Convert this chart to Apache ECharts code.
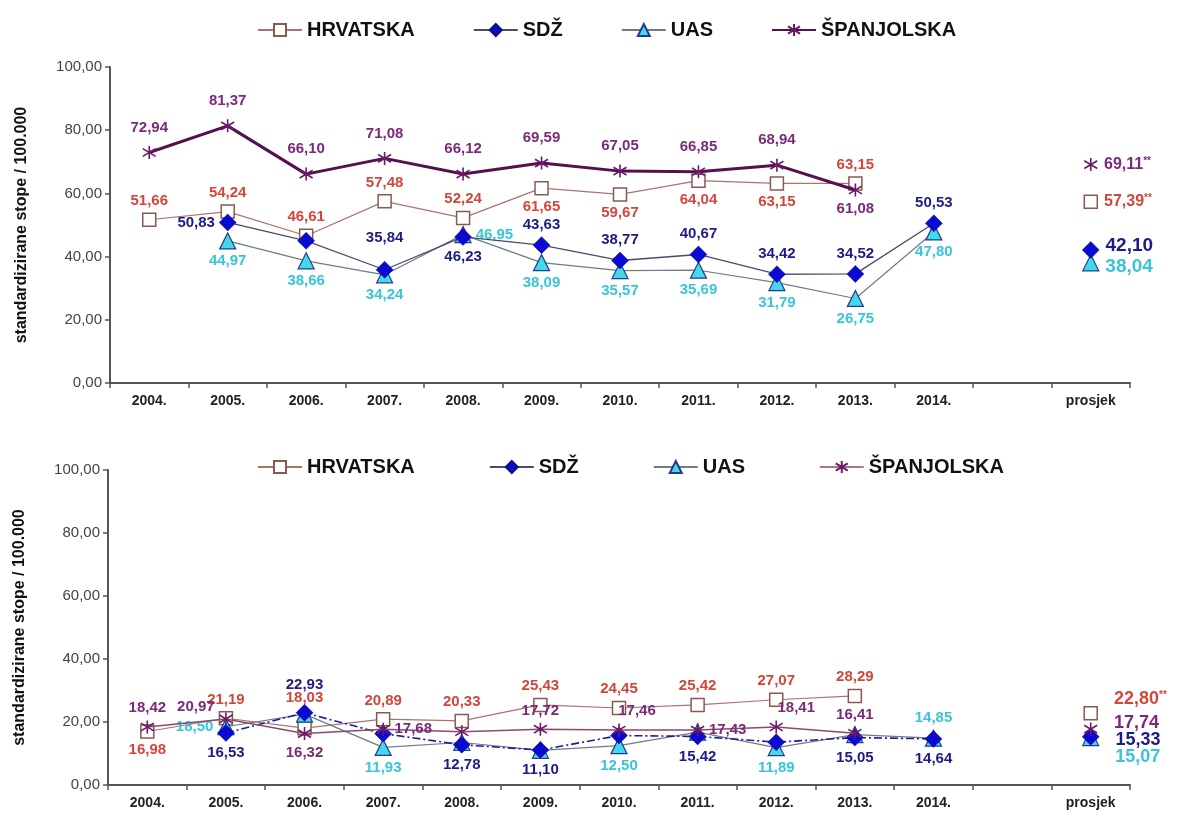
<!DOCTYPE html>
<html>
<head>
<meta charset="utf-8">
<script src="https://cdn.jsdelivr.net/npm/echarts@6/dist/echarts.min.js"></script>
<style>
html,body{margin:0;padding:0;background:#fff}
#main{width:1181px;height:820px}
</style>
</head>
<body>
<div id="main"></div>
<script>
// categories (empty slot before the average column)
const years = ['2004.','2005.','2006.','2007.','2008.','2009.','2010.','2011.','2012.','2013.','2014.','','prosjek'];
const names = ['HRVATSKA','SDŽ','UAS','ŠPANJOLSKA'];
const yTicks = [0, 20, 40, 60, 80, 100];

// upper chart
const hrvTop = [51.66, 54.24, 46.61, 57.48, 52.24, 61.65, 59.67, 64.04, 63.15, 63.15, null];
const sdzTop = [null, 50.83, 45.00, 35.84, 46.23, 43.63, 38.77, 40.67, 34.42, 34.52, 50.53];
const uasTop = [null, 44.97, 38.66, 34.24, 46.95, 38.09, 35.57, 35.69, 31.79, 26.75, 47.80];
const spaTop = [72.94, 81.37, 66.10, 71.08, 66.12, 69.59, 67.05, 66.85, 68.94, 61.08, null];
const avgTop = [57.39, 42.10, 38.04, 69.11];   // HRV, SDŽ, UAS, ŠPA

// lower chart
const hrvBot = [16.98, 21.19, 18.03, 20.89, 20.33, 25.43, 24.45, 25.42, 27.07, 28.29, null];
const sdzBot = [null, 16.53, 22.93, 16.30, 12.78, 11.10, 15.70, 15.42, 13.60, 15.05, 14.64];
const uasBot = [null, 18.50, 22.50, 11.93, 13.50, 11.00, 12.50, 16.80, 11.89, 16.00, 14.85];
const spaBot = [18.42, 20.97, 16.32, 17.68, 16.90, 17.72, 17.46, 17.43, 18.41, 16.41, null];
const avgBot = [22.80, 15.33, 15.07, 17.74];

// label placement per point (null = no label shown)
const hrvTopLbl = ['t','t','t','t','t','b','b','b','b','t',null];
const sdzTopLbl = [null,'l',null,['t',0,-12],'b','t','t','t','t','t','t'];
const uasTopLbl = [null,'b','b','b','r','b','b','b','b','b','b'];
const spaTopLbl = [['t',0,-6],['t',0,-6],['t',0,-6],['t',0,-6],['t',0,-6],['t',0,-6],['t',0,-6],['t',0,-6],['t',0,-6],'b',null];

const hrvBotLbl = ['b','t',['t',0,-12],'t','t','t','t','t','t','t',null];
const sdzBotLbl = [null,'b',['t',0,-8],null,'b','b',null,'b',null,'b','b'];
const uasBotLbl = [null,'l',null,'b',null,null,'b',null,'b',null,'t'];
const spaBotLbl = ['t',['l',0,-12],'b','r',null,'t',['t',18,0],'r',['t',20,0],'t',null];

const C = {
  hrv: '#d0473c', hrvLine: '#a8746c', hrvEdge: '#8a5a50',
  sdz: '#1c1c88', sdzFill: '#0a0ad2',
  uas: '#38c6d6', uasFill: '#44d8ec', uasEdge: '#223c88',
  spa: '#7a2a78'
};
const FONT = 'Liberation Sans';
const star = 'path://M5,0L5,10M0,2L10,8M10,2L0,8';

const fmt = v => v.toFixed(2).replace('.', ',');

function lbl(spec, color) {
  if (!spec) return { show: false };
  const s = Array.isArray(spec) ? spec : [spec, 0, 0];
  const pos = { t: 'top', b: 'bottom', l: 'left', r: 'right' }[s[0]];
  return { show: true, position: pos, offset: [s[1], s[2]], color: color };
}

function lineSeries(name, vals, lbls, gi, opt) {
  return {
    name: name, type: 'line', xAxisIndex: gi, yAxisIndex: gi,
    symbol: opt.symbol, symbolSize: opt.size, z: opt.z,
    lineStyle: { color: opt.line, width: opt.width, type: opt.dash || 'solid' },
    itemStyle: opt.item,
    label: {
      fontFamily: FONT, fontWeight: 'bold', fontSize: 15, distance: 4,
      formatter: p => fmt(p.value)
    },
    data: vals.map((v, i) => v == null ? '-' : { value: v, label: lbl(lbls[i], opt.color) })
  };
}

function avgSeries(val, gi, opt, size, stars, off) {
  return {
    name: 'prosjek ' + opt.key, type: 'scatter', xAxisIndex: gi, yAxisIndex: gi,
    symbol: opt.symbol, symbolSize: opt.size, z: opt.z,
    itemStyle: Object.assign({ opacity: 1 }, opt.item),
    label: {
      show: true, position: 'right', distance: 6, offset: off || [0, 0],
      fontFamily: FONT, fontWeight: 'bold',
      formatter: p => '{v|' + fmt(p.value[1]) + '}' + (stars ? '{s|**}' : ''),
      rich: {
        v: { color: opt.color, fontSize: size, fontWeight: 'bold', fontFamily: FONT },
        s: { color: opt.color, fontSize: 10, fontWeight: 'bold', fontFamily: FONT, verticalAlign: 'top', padding: [0, 0, 6, 0] }
      }
    },
    data: [['prosjek', val]]
  };
}

const sty = {
  hrv: { key: 'hrv', symbol: 'rect', size: 13, color: C.hrv, line: C.hrvLine, width: 1.2, z: 2,
         item: { color: '#fff', borderColor: C.hrvEdge, borderWidth: 1.5 } },
  sdz: { key: 'sdz', symbol: 'diamond', size: 17, color: C.sdz, line: '#4a4a6c', width: 1.3, z: 4,
         item: { color: C.sdzFill, borderColor: '#10107a', borderWidth: 0.5 } },
  uas: { key: 'uas', symbol: 'triangle', size: 16, color: C.uas, line: '#6e7c84', width: 1.2, z: 3,
         item: { color: C.uasFill, borderColor: C.uasEdge, borderWidth: 1.2 } },
  spa: { key: 'spa', symbol: star, size: 13, color: C.spa, line: '#55114f', width: 3, z: 5,
         item: { color: 'rgba(0,0,0,0)', borderColor: '#6a1a66', borderWidth: 1.6 } }
};
const styBot = {
  hrv: sty.hrv,
  sdz: Object.assign({}, sty.sdz, { line: '#1c1ca0', width: 1.6, dash: [8, 3, 2, 3] }),
  uas: sty.uas,
  spa: Object.assign({}, sty.spa, { line: '#8a4a70', width: 1.5 })
};

function axes(gi) {
  return {
    x: {
      type: 'category', gridIndex: gi, data: years, boundaryGap: true,
      axisLine: { lineStyle: { color: '#555', width: 2 } },
      axisTick: { show: true, interval: 0, length: 5, lineStyle: { color: '#555', width: 1.5 } },
      axisLabel: { interval: 0, margin: 11, color: '#222', fontFamily: FONT, fontWeight: 'bold', fontSize: 14 }
    },
    y: {
      type: 'value', gridIndex: gi, min: yTicks[0], max: yTicks[yTicks.length - 1], interval: 20,
      name: 'standardizirane stope / 100.000', nameLocation: 'middle', nameGap: 80,
      nameTextStyle: { fontFamily: FONT, fontWeight: 'bold', fontSize: 16, color: '#111' },
      axisLine: { show: true, lineStyle: { color: '#555', width: 2 } },
      axisTick: { show: true, length: 5, lineStyle: { color: '#555', width: 1.5 } },
      splitLine: { show: false },
      axisLabel: { margin: 8, color: '#444', fontFamily: FONT, fontSize: 15, formatter: v => fmt(v) }
    }
  };
}
const a0 = axes(0), a1 = axes(1);

function legend(top, gap, lineOverride) {
  return {
    top: top, left: 252, itemGap: gap, itemWidth: 44, itemHeight: 15,
    textStyle: { fontFamily: FONT, fontWeight: 'bold', fontSize: 20, color: '#111' },
    data: names.map((n, i) => {
      const o = { name: n };
      if (lineOverride && lineOverride[i]) o.lineStyle = lineOverride[i];
      return o;
    })
  };
}

const series = [
  lineSeries(names[0], hrvTop, hrvTopLbl, 0, sty.hrv),
  lineSeries(names[2], uasTop, uasTopLbl, 0, sty.uas),
  lineSeries(names[1], sdzTop, sdzTopLbl, 0, sty.sdz),
  lineSeries(names[3], spaTop, spaTopLbl, 0, sty.spa),
  avgSeries(avgTop[3], 0, sty.spa, 16, true),
  avgSeries(avgTop[0], 0, sty.hrv, 16, true),
  avgSeries(avgTop[2], 0, sty.uas, 19, false, [0, 4]),
  avgSeries(avgTop[1], 0, sty.sdz, 19, false, [0, -4]),

  lineSeries(names[0], hrvBot, hrvBotLbl, 1, styBot.hrv),
  lineSeries(names[3], spaBot, spaBotLbl, 1, styBot.spa),
  lineSeries(names[2], uasBot, uasBotLbl, 1, styBot.uas),
  lineSeries(names[1], sdzBot, sdzBotLbl, 1, styBot.sdz),
  avgSeries(avgBot[0], 1, styBot.hrv, 18, true, [10, -14]),
  avgSeries(avgBot[3], 1, styBot.spa, 18, false, [10, -6]),
  avgSeries(avgBot[2], 1, styBot.uas, 18, false, [10, 20]),
  avgSeries(avgBot[1], 1, styBot.sdz, 18, false, [10, 3])
];

const chart = echarts.init(document.getElementById('main'), null, { renderer: 'canvas' });
chart.setOption({
  backgroundColor: '#fff',
  animation: false,
  legend: [
    legend(15, 58),
    legend(452, 74, [null, null, null, { color: '#8a4a70', width: 1.5 }])
  ],
  grid: [
    { left: 110, right: 51, top: 67, height: 316 },
    { left: 108, right: 51, top: 470, height: 315 }
  ],
  xAxis: [a0.x, a1.x],
  yAxis: [a0.y, a1.y],
  series: series
});
</script>
</body>
</html>
